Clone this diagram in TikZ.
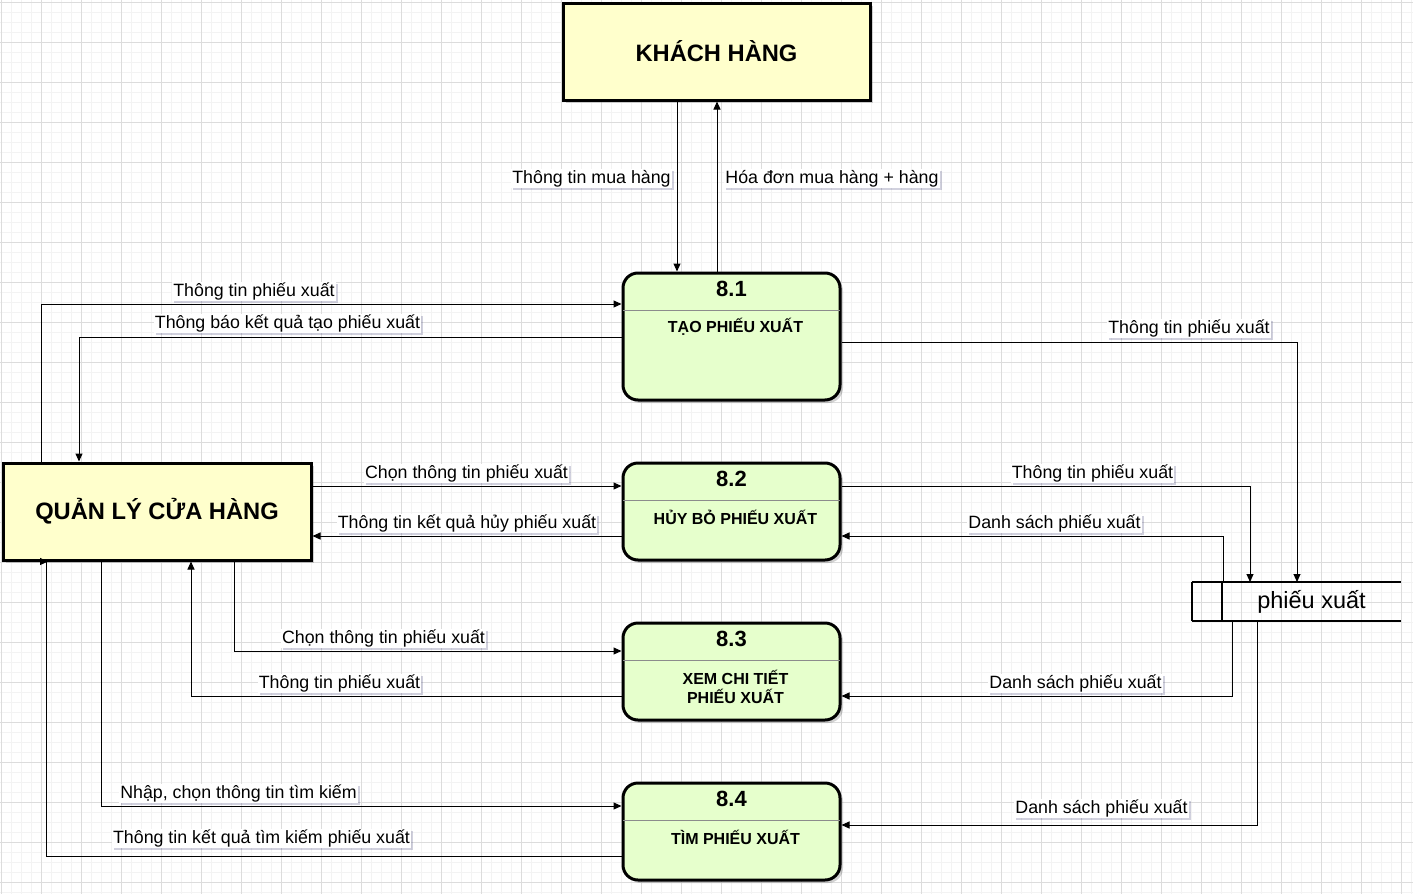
\documentclass[tikz,border=0pt]{standalone}
\usepackage{fontspec}
\setmainfont{Liberation Sans}
\usetikzlibrary{arrows.meta,shadows,calc}
\definecolor{gridmaj}{HTML}{DCDCDC}
\definecolor{gridmin}{HTML}{F3F3F3}
\definecolor{extfill}{HTML}{FFFFCC}
\definecolor{procfill}{HTML}{E6FFCC}
\begin{document}
\begin{tikzpicture}[x=1pt,y=-1pt,
  boxshadow/.style={drop shadow={shadow xshift=3pt,shadow yshift=-3pt,opacity=0.25,fill=black!70}},
  extbox/.style={draw=black,line width=3pt,fill=extfill,inner sep=0pt,outer sep=1.5pt,
    font=\fontsize{23.7}{26}\selectfont\bfseries,boxshadow},
  procbox/.style={draw=black,line width=3pt,fill=procfill,rounded corners=15pt,inner sep=0pt,outer sep=1.5pt,
    minimum width=217pt,boxshadow},
  proctitle/.style={font=\fontsize{22}{24}\selectfont\bfseries,inner sep=0pt},
  procname/.style={font=\fontsize{16}{19}\selectfont\bfseries,inner sep=0pt,align=center},
  divider/.style={draw=black!45,line width=1pt},
  flow/.style={draw=black,line width=1pt,-{Triangle[length=8pt,width=7pt]}},
  lbl/.style={fill=white,inner sep=1.2pt,font=\fontsize{17.8}{20}\selectfont,
    drop shadow={shadow xshift=2pt,shadow yshift=-2pt,opacity=0.18,fill=blue!30!black}},
  storeline/.style={draw=black,line width=1.3pt}
]
\useasboundingbox (0,0) rectangle (1413,894);
\fill[white] (0,0) rectangle (1413,894);
\foreach \gx in {1,11,...,1411} {\draw[gridmin,line width=1pt] (\gx,0) -- (\gx,894);}
\foreach \gy in {2,12,...,892} {\draw[gridmin,line width=1pt] (0,\gy) -- (1413,\gy);}
\foreach \gx in {1,41,...,1411} {\draw[gridmaj,line width=1pt] (\gx,0) -- (\gx,894);}
\foreach \gy in {2,42,...,892} {\draw[gridmaj,line width=1pt] (0,\gy) -- (1413,\gy);}

% helper coordinates
\foreach \n/\v in {677/677,717/717,41/41,79/79,1297/1297,1250/1250,1223/1223,234/234,191/191,1232/1232,1257/1257,101/101,46/46}
  {\coordinate (x\n) at (\v,0);}
\foreach \n/\v in {304/304,337/337,342/342,486/486,536/536,651/651,696/696,806/806,825/825,856/856}
  {\coordinate (y\n) at (0,\v);}

% external entities
\node[extbox,minimum width=307pt,minimum height=97pt] (kh) at (716.5,51.5) {KHÁCH HÀNG};
\node[extbox,minimum width=308pt,minimum height=97pt] (ql) at (157,511.5) {QUẢN LÝ CỬA HÀNG};

% processes
\node[procbox,minimum height=127pt] (p1) at (731.5,336.5) {};
\node[procbox,minimum height=97pt] (p2) at (731.5,511.5) {};
\node[procbox,minimum height=97pt] (p3) at (731.5,671.5) {};
\node[procbox,minimum height=97pt] (p4) at (731.5,831.5) {};

\foreach \p/\t in {p1/8.1,p2/8.2,p3/8.3,p4/8.4}{
  \draw[divider] ($(\p.north west)+(1.5,39)$) -- ($(\p.north east)+(-1.5,39)$);
  \node[proctitle] (\p t) at ($(\p.north)+(0,17.5)$) {\t};
}
\node[procname] (p1n) at ($(p1.north)+(4,55.5)$) {TẠO PHIẾU XUẤT};
\node[procname] (p2n) at ($(p2.north)+(4,55.5)$) {HỦY BỎ PHIẾU XUẤT};
\node[procname] (p3n) at ($(p3.north)+(4,65)$) {XEM CHI TIẾT\\PHIẾU XUẤT};
\node[procname] (p4n) at ($(p4.north)+(4,55.5)$) {TÌM PHIẾU XUẤT};

% data store
\node[minimum width=209pt,minimum height=39pt,inner sep=0pt,outer sep=0pt] (st) at (1296.5,601.5) {};
\draw[storeline] (st.north west) -- (st.north east);
\draw[storeline] (st.south west) -- (st.south east);
\draw[storeline] (st.north west) -- (st.south west);
\draw[storeline] ($(st.north west)+(30,0)$) -- ($(st.south west)+(30,0)$);
\node[font=\fontsize{23.5}{26}\selectfont,inner sep=0pt] (stt) at ($(st.center)+(15,0)$) {phiếu xuất};

% flows
\draw[flow] (kh.south -| x677) -- (p1.north -| x677);
\draw[flow] (p1.north -| x717) -- (kh.south -| x717);
\draw[flow] (ql.north -| x41) |- (p1.west |- y304);
\draw[flow] (p1.west |- y337) -| (ql.north -| x79);
\draw[flow] (p1.east |- y342) -| (st.north -| x1297);
\draw[flow] (ql.east |- y486) -- (p2.west |- y486);
\draw[flow] (p2.west |- y536) -- (ql.east |- y536);
\draw[flow] (p2.east |- y486) -| (st.north -| x1250);
\draw[flow] (st.north -| x1223) |- (p2.east |- y536);
\draw[flow] (ql.south -| x234) |- (p3.west |- y651);
\draw[flow] (p3.west |- y696) -| (ql.south -| x191);
\draw[flow] (st.south -| x1232) |- (p3.east |- y696);
\draw[flow] (st.south -| x1257) |- (p4.east |- y825);
\draw[flow] (ql.south -| x101) |- (p4.west |- y806);
\draw[flow] (p4.west |- y856) -| (ql.south -| x46) -- ++(2,0);

% labels
\node[lbl] (l1) at (591.5,178.5) {Thông tin mua hàng};
\node[lbl] (l2) at (832,178.5) {Hóa đơn mua hàng + hàng};
\node[lbl] (l3) at (254,291.5) {Thông tin phiếu xuất};
\node[lbl] (l4) at (287.5,323.5) {Thông báo kết quả tạo phiếu xuất};
\node[lbl] (l5) at (1189,328.5) {Thông tin phiếu xuất};
\node[lbl] (l6) at (466.5,473.5) {Chọn thông tin phiếu xuất};
\node[lbl] (l7) at (467,523.5) {Thông tin kết quả hủy phiếu xuất};
\node[lbl] (l8) at (1092.5,473.5) {Thông tin phiếu xuất};
\node[lbl] (l9) at (1054.5,523.5) {Danh sách phiếu xuất};
\node[lbl] (l10) at (383.5,638.5) {Chọn thông tin phiếu xuất};
\node[lbl] (l11) at (339.5,683.5) {Thông tin phiếu xuất};
\node[lbl] (l12) at (1075.5,683.5) {Danh sách phiếu xuất};
\node[lbl] (l13) at (1101.5,808.5) {Danh sách phiếu xuất};
\node[lbl] (l14) at (238.5,793.5) {Nhập, chọn thông tin tìm kiếm};
\node[lbl] (l15) at (261.5,838.5) {Thông tin kết quả tìm kiếm phiếu xuất};
\end{tikzpicture}
\end{document}
